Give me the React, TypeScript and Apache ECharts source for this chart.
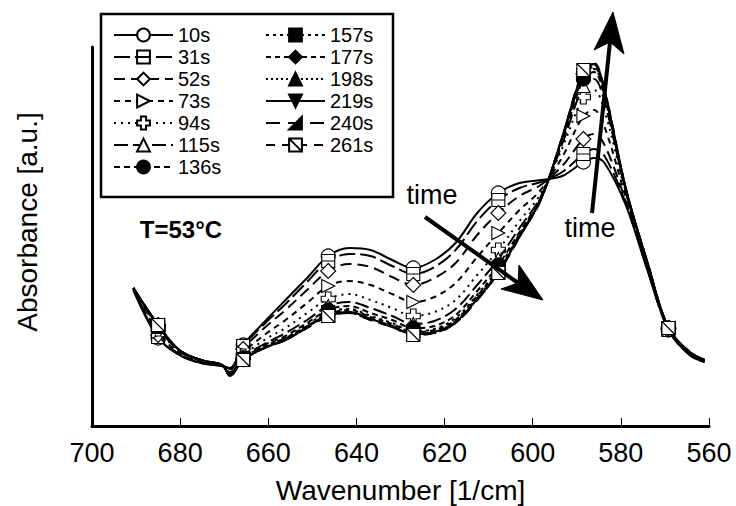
import React, { useEffect, useRef } from 'react';
import * as echarts from 'echarts';

// Wavenumber grid (1/cm) shared by all spectra
const wavenumbers = [690.6, 685.0, 680.2, 675.3, 670.5, 668.7, 665.7, 660.9, 656.1, 651.2, 646.4, 641.6, 636.8, 631.9, 627.1, 622.3, 617.5, 612.6, 607.8, 603.0, 598.2, 593.3, 588.5, 586.1, 583.7, 578.9, 574.0, 569.2, 564.4, 561.0];
// Wavenumbers where markers are drawn
const markerWavenumbers = [685.0, 665.7, 646.4, 627.1, 607.8, 588.5, 569.2];

const seriesNames = ['10s', '31s', '52s', '73s', '94s', '115s', '136s', '157s', '177s', '198s', '219s', '240s', '261s'];

const abs10s = [1.36, 0.88, 0.71, 0.63, 0.60, 0.58, 0.81, 1.04, 1.26, 1.48, 1.70, 1.78, 1.76, 1.66, 1.58, 1.66, 1.83, 2.13, 2.33, 2.43, 2.46, 2.50, 2.64, 2.68, 2.63, 2.21, 1.56, 0.96, 0.71, 0.64];
const abs31s = [1.36, 0.89, 0.71, 0.63, 0.60, 0.57, 0.80, 1.02, 1.22, 1.44, 1.65, 1.72, 1.70, 1.60, 1.52, 1.59, 1.76, 2.05, 2.26, 2.38, 2.44, 2.54, 2.72, 2.77, 2.70, 2.23, 1.57, 0.96, 0.71, 0.64];
const abs52s = [1.37, 0.91, 0.72, 0.64, 0.60, 0.56, 0.77, 0.98, 1.16, 1.36, 1.55, 1.62, 1.59, 1.49, 1.41, 1.48, 1.63, 1.91, 2.13, 2.30, 2.41, 2.60, 2.87, 2.92, 2.81, 2.25, 1.58, 0.97, 0.72, 0.65];
const abs73s = [1.37, 0.94, 0.73, 0.64, 0.60, 0.54, 0.73, 0.91, 1.06, 1.23, 1.40, 1.45, 1.41, 1.32, 1.24, 1.29, 1.43, 1.69, 1.93, 2.16, 2.36, 2.69, 3.10, 3.16, 2.99, 2.29, 1.60, 0.97, 0.72, 0.65];
const abs94s = [1.37, 0.97, 0.75, 0.65, 0.61, 0.53, 0.70, 0.86, 0.98, 1.13, 1.27, 1.32, 1.26, 1.18, 1.10, 1.14, 1.26, 1.51, 1.76, 2.05, 2.32, 2.78, 3.29, 3.36, 3.15, 2.33, 1.62, 0.97, 0.73, 0.65];
const abs115s = [1.38, 0.99, 0.75, 0.65, 0.61, 0.52, 0.69, 0.82, 0.93, 1.06, 1.20, 1.24, 1.18, 1.10, 1.02, 1.05, 1.17, 1.41, 1.67, 1.98, 2.29, 2.82, 3.40, 3.47, 3.24, 2.35, 1.63, 0.98, 0.73, 0.66];
const abs136s = [1.38, 1.00, 0.76, 0.66, 0.61, 0.52, 0.68, 0.81, 0.90, 1.03, 1.16, 1.20, 1.13, 1.06, 0.98, 1.00, 1.11, 1.35, 1.61, 1.94, 2.28, 2.85, 3.47, 3.54, 3.29, 2.36, 1.63, 0.98, 0.74, 0.66];
const abs157s = [1.38, 1.00, 0.76, 0.66, 0.61, 0.51, 0.67, 0.80, 0.88, 1.01, 1.14, 1.17, 1.10, 1.03, 0.95, 0.97, 1.08, 1.31, 1.58, 1.92, 2.27, 2.87, 3.51, 3.57, 3.32, 2.37, 1.64, 0.98, 0.74, 0.66];
const abs177s = [1.38, 1.01, 0.76, 0.66, 0.61, 0.51, 0.67, 0.79, 0.88, 1.00, 1.12, 1.16, 1.09, 1.02, 0.94, 0.96, 1.06, 1.30, 1.56, 1.91, 2.27, 2.87, 3.52, 3.59, 3.33, 2.37, 1.64, 0.98, 0.74, 0.66];
const abs198s = [1.38, 1.01, 0.76, 0.66, 0.61, 0.51, 0.66, 0.78, 0.87, 0.99, 1.11, 1.14, 1.07, 1.00, 0.92, 0.94, 1.05, 1.28, 1.55, 1.90, 2.26, 2.88, 3.54, 3.61, 3.34, 2.38, 1.64, 0.98, 0.74, 0.66];
const abs219s = [1.38, 1.01, 0.76, 0.66, 0.61, 0.51, 0.66, 0.78, 0.86, 0.99, 1.11, 1.14, 1.07, 1.00, 0.92, 0.94, 1.04, 1.27, 1.54, 1.90, 2.26, 2.89, 3.55, 3.62, 3.35, 2.38, 1.64, 0.98, 0.74, 0.66];
const abs240s = [1.38, 1.01, 0.76, 0.66, 0.61, 0.50, 0.66, 0.78, 0.86, 0.98, 1.10, 1.13, 1.06, 0.99, 0.92, 0.93, 1.03, 1.26, 1.53, 1.89, 2.26, 2.89, 3.56, 3.62, 3.36, 2.38, 1.64, 0.98, 0.74, 0.66];
const abs261s = [1.38, 1.01, 0.76, 0.66, 0.61, 0.51, 0.66, 0.78, 0.86, 0.98, 1.10, 1.13, 1.06, 0.99, 0.91, 0.93, 1.03, 1.26, 1.53, 1.89, 2.26, 2.89, 3.56, 3.63, 3.36, 2.38, 1.64, 0.98, 0.74, 0.66];

const allAbs = [abs10s, abs31s, abs52s, abs73s, abs94s, abs115s, abs136s, abs157s, abs177s, abs198s, abs219s, abs240s, abs261s];

const xTickInterval = 20;
const xMin = 560;
const xMax = 700;

const FONT = '"Liberation Sans", Arial, Helvetica, sans-serif';

const WHITE = '#ffffff';
const BLACK = '#000000';

// marker / line style per series
const styles: { symbol: string; fill: string; dash: any; size: number }[] = [
  { symbol: 'circle', fill: WHITE, dash: 'solid', size: 14 },
  { symbol: 'path://M0,0H10V10H0ZM0,5H10', fill: WHITE, dash: [16, 5], size: 13 },
  { symbol: 'diamond', fill: WHITE, dash: [11, 6], size: 15 },
  { symbol: 'path://M0,0L10,5L0,10Z', fill: WHITE, dash: [6, 5], size: 13 },
  { symbol: 'path://M3,0H7V3H10V7H7V10H3V7H0V3H3Z', fill: WHITE, dash: [2, 5], size: 14 },
  { symbol: 'triangle', fill: WHITE, dash: [14, 5], size: 13 },
  { symbol: 'circle', fill: BLACK, dash: [6, 4], size: 14 },
  { symbol: 'rect', fill: BLACK, dash: [3, 4], size: 13 },
  { symbol: 'diamond', fill: BLACK, dash: [5, 4], size: 15 },
  { symbol: 'triangle', fill: BLACK, dash: [2, 3], size: 13 },
  { symbol: 'path://M0,0H10L5,10Z', fill: BLACK, dash: 'solid', size: 13 },
  { symbol: 'path://M10,0V10H0Z', fill: BLACK, dash: [14, 8], size: 13 },
  { symbol: 'path://M0,0H10V10H0ZM0,0L10,10', fill: WHITE, dash: [9, 7], size: 13 },
];

function buildSeries() {
  return seriesNames.map((name, si) => {
    const st = styles[si];
    const ys = allAbs[si];
    const data = wavenumbers.map((wn, i) => {
      const isMarker = markerWavenumbers.indexOf(wn) >= 0;
      return isMarker ? { value: [wn, ys[i]] } : { value: [wn, ys[i]], symbol: 'none' };
    });
    return {
      type: 'line',
      name,
      data,
      smooth: 0.35,
      symbol: st.symbol,
      symbolSize: st.size,
      symbolKeepAspect: true,
      showAllSymbol: true,
      lineStyle: { color: BLACK, width: 2, type: st.dash },
      itemStyle: { color: st.fill, borderColor: BLACK, borderWidth: 1.1 },
      emphasis: { disabled: true },
      z: 2 + si * 0.01,
    };
  });
}

function arrowHead(tip: number[], c1: number[], notch: number[], c2: number[]) {
  return {
    type: 'polygon',
    z: 200,
    shape: { points: [tip, c1, notch, c2] },
    style: { fill: BLACK, stroke: BLACK, lineWidth: 1 },
  };
}

export default function App() {
  const ref = useRef<HTMLDivElement>(null);
  useEffect(() => {
    if (!ref.current) return;
    const chart = echarts.init(ref.current, undefined, { renderer: 'svg' });
    const legendCommon = {
      orient: 'vertical',
      padding: 0,
      itemGap: 2,
      itemWidth: 59,
      itemHeight: 16,
      selectedMode: false,
      textStyle: { fontSize: 20, lineHeight: 20, color: BLACK, fontFamily: FONT },
    };
    chart.setOption({
      animation: false,
      backgroundColor: WHITE,
      textStyle: { fontFamily: FONT },
      grid: { left: 92, right: 27, top: 47, bottom: 80, containLabel: false, outerBoundsMode: 'none' },
      legend: [
        { ...legendCommon, left: 113, top: 25, data: seriesNames.slice(0, 7) },
        { ...legendCommon, left: 265, top: 25, data: seriesNames.slice(7) },
      ],
      xAxis: {
        type: 'value',
        min: xMin,
        max: xMax,
        interval: xTickInterval,
        inverse: true,
        name: 'Wavenumber [1/cm]',
        nameLocation: 'middle',
        nameGap: 50,
        nameTextStyle: { fontSize: 28, color: BLACK, fontFamily: FONT },
        axisLine: { onZero: false, lineStyle: { color: BLACK, width: 3 } },
        axisTick: { show: true, inside: true, length: 8, lineStyle: { color: BLACK, width: 1 } },
        axisLabel: { fontSize: 27, color: BLACK, margin: 13, fontFamily: FONT },
        splitLine: { show: false },
      },
      yAxis: {
        type: 'value',
        min: 0,
        max: 3.79,
        axisLine: { show: true, onZero: false, lineStyle: { color: BLACK, width: 3 } },
        axisTick: { show: false },
        axisLabel: { show: false },
        splitLine: { show: false },
      },
      series: buildSeries(),
      graphic: [
        {
          type: 'rect',
          z: 100,
          shape: { x: 101, y: 14, width: 292, height: 183 },
          style: { fill: 'none', stroke: BLACK, lineWidth: 2.5 },
        },
        {
          type: 'text',
          z: 100,
          x: 27,
          y: 222,
          rotation: Math.PI / 2,
          style: { text: 'Absorbance [a.u.]', font: `28px ${FONT}`, fill: BLACK, align: 'center', verticalAlign: 'middle' },
        },
        {
          type: 'text',
          z: 100,
          x: 181,
          y: 229,
          style: { text: 'T=53°C', font: `bold 24px ${FONT}`, fill: BLACK, align: 'center', verticalAlign: 'middle' },
        },
        {
          type: 'text',
          z: 100,
          x: 432,
          y: 195,
          style: { text: 'time', font: `27px ${FONT}`, fill: BLACK, align: 'center', verticalAlign: 'middle' },
        },
        {
          type: 'text',
          z: 100,
          x: 590,
          y: 228,
          style: { text: 'time', font: `27px ${FONT}`, fill: BLACK, align: 'center', verticalAlign: 'middle' },
        },
        {
          type: 'line',
          z: 200,
          shape: { x1: 425, y1: 217, x2: 518, y2: 283 },
          style: { stroke: BLACK, lineWidth: 4 },
        },
        arrowHead([543, 300], [501, 289], [518, 283], [519, 265]),
        {
          type: 'line',
          z: 200,
          shape: { x1: 592, y1: 213, x2: 610, y2: 42 },
          style: { stroke: BLACK, lineWidth: 4 },
        },
        arrowHead([613, 12], [594, 50], [610, 42], [624, 54]),
      ],
    });
    return () => chart.dispose();
  }, []);
  return (
    <div
      ref={ref}
      style={{ position: 'fixed', left: 0, top: 0, width: 736, height: 506, background: '#fff' }}
    />
  );
}
